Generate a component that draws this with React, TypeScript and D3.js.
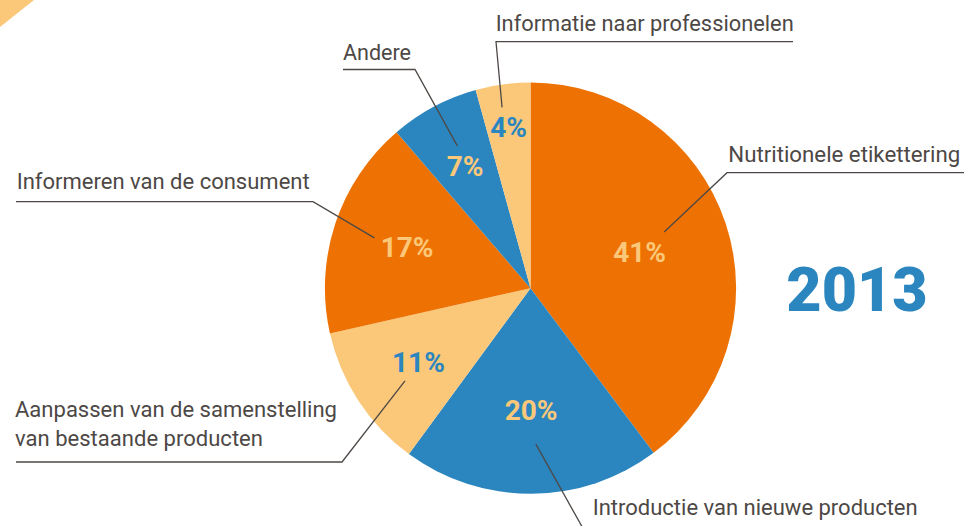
import React from "react";
import * as d3 from "d3";

// ---- data ----
const categories = [
  "Nutritionele etikettering",
  "Introductie van nieuwe producten",
  "Aanpassen van de samenstelling van bestaande producten",
  "Informeren van de consument",
  "Andere",
  "Informatie naar professionelen",
];
const categoryLines = [
  ["Nutritionele etikettering"],
  ["Introductie van nieuwe producten"],
  ["Aanpassen van de samenstelling", "van bestaande producten"],
  ["Informeren van de consument"],
  ["Andere"],
  ["Informatie naar professionelen"],
];
const values = [39.8, 20.3, 11.4, 17.25, 7.0, 4.3];
const valueLabels = ["41%", "20%", "11%", "17%", "7%", "4%"];
const yearLabel = "2013";

// ---- styling / layout ----
const W = 964;
const H = 526;
const ORANGE = "#EE7203";
const BLUE = "#2B86BF";
const LIGHT = "#FBC87A";
const TEXT = "#4D4845";
const sliceColors = [ORANGE, BLUE, LIGHT, ORANGE, BLUE, LIGHT];
const pctColors = [LIGHT, LIGHT, BLUE, LIGHT, LIGHT, BLUE];
const cx = 530.5;
const cy = 288.2;
const R = 205.6;
const pctRadius = [115, 122, 134, 130, 139, 163];
const leaderRadius = [145, 156, 156, 164, 160, 183];
const leaderAngleOffset = [-4.4, -1.7, -3.2, -0.45, 0.85, -1.2];
// elbow + end of underline, text anchor, text widths
const annot = [
  { elbow: [727, 172.7], end: [964, 172.7], tx: 728.3, ty: [162], tw: [232] },
  { elbow: [585, 532], end: null, tx: 592.7, ty: [515], tw: [325] },
  { elbow: [342, 462], end: [16, 462], tx: 15, ty: [417, 446], tw: [322, 248] },
  { elbow: [313, 201.7], end: [16, 201.7], tx: 16.7, ty: [189], tw: [293] },
  { elbow: [415, 69.5], end: [343, 69.5], tx: 343, ty: [60], tw: [68] },
  { elbow: [496, 41.7], end: [793, 41.7], tx: 495.7, ty: [31], tw: [298] },
];

const polar = (angleRad: number, r: number): [number, number] => [
  cx + r * Math.sin(angleRad),
  cy - r * Math.cos(angleRad),
];

export default function App() {
  const pie = d3.pie<number>().sort(null).value((d) => d);
  const arcs = pie(values);
  const arcGen = d3.arc<d3.PieArcDatum<number>>().innerRadius(0).outerRadius(R);

  return (
    <svg
      width={W}
      height={H}
      viewBox={`0 0 ${W} ${H}`}
      style={{ position: "absolute", left: 0, top: 0, background: "#fff" }}
    >
      <polygon points="0,0 34,0 0,27" fill={LIGHT} />
      <g transform={`translate(${cx},${cy})`}>
        {arcs.map((a, i) => (
          <path key={i} d={arcGen(a) || ""} fill={sliceColors[i]} />
        ))}
      </g>
      {arcs.map((a, i) => {
        const mid = (a.startAngle + a.endAngle) / 2;
        const [px, py] = polar(mid, pctRadius[i]);
        return (
          <text
            key={"p" + i}
            x={px}
            y={py}
            dy="0.36em"
            textAnchor="middle"
            fill={pctColors[i]}
            style={{ font: "700 28px Roboto, 'DejaVu Sans', sans-serif" }}
          >
            {valueLabels[i]}
          </text>
        );
      })}
      {arcs.map((a, i) => {
        const mid = (a.startAngle + a.endAngle) / 2 + (leaderAngleOffset[i] * Math.PI) / 180;
        const inner = polar(mid, leaderRadius[i]);
        const an = annot[i];
        const pts: [number, number][] = [inner, an.elbow as [number, number]];
        if (an.end) pts.push(an.end as [number, number]);
        const line = d3.line();
        return (
          <g key={"l" + i}>
            <path d={line(pts) || ""} fill="none" stroke={TEXT} strokeWidth={1.3} />
            {categoryLines[i].map((t, j) => (
              <text
                key={j}
                x={an.tx}
                y={an.ty[j]}
                fill={TEXT}
                textLength={an.tw[j]}
                lengthAdjust="spacingAndGlyphs"
                style={{ font: "400 22.5px Roboto, 'DejaVu Sans', sans-serif" }}
              >
                {t}
              </text>
            ))}
          </g>
        );
      })}
      <text
        x={857}
        y={311}
        textAnchor="middle"
        fill={BLUE}
        style={{ font: "900 61px Roboto, 'DejaVu Sans', sans-serif" }}
      >
        {yearLabel}
      </text>
    </svg>
  );
}
